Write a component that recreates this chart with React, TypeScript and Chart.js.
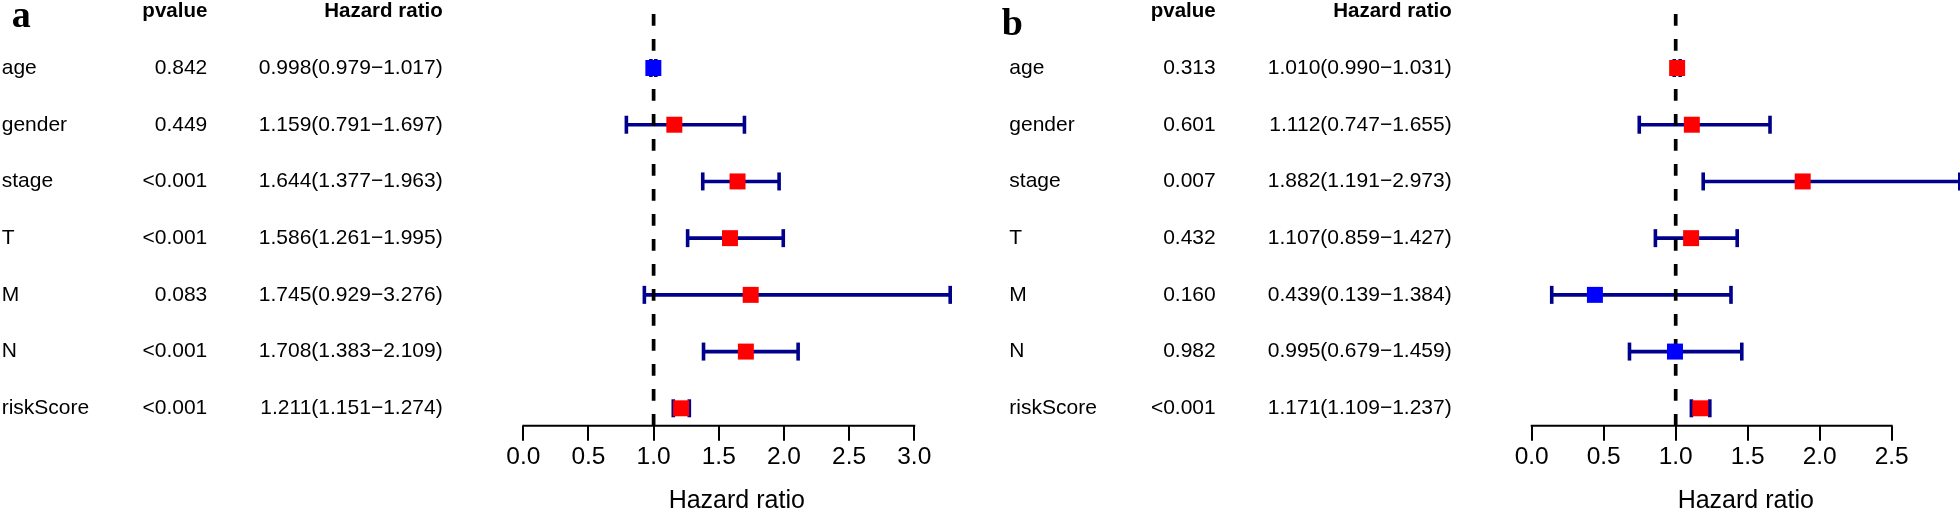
import React, { useEffect, useRef } from "react";
import { Chart, registerables } from "chart.js";

Chart.register(...registerables);

// ---------------- data ----------------
const variables = ["age", "gender", "stage", "T", "M", "N", "riskScore"];

const pvaluesA = ["0.842", "0.449", "<0.001", "<0.001", "0.083", "<0.001", "<0.001"];
const hrA = [0.998, 1.159, 1.644, 1.586, 1.745, 1.708, 1.211];
const hrLowA = [0.979, 0.791, 1.377, 1.261, 0.929, 1.383, 1.151];
const hrHighA = [1.017, 1.697, 1.963, 1.995, 3.276, 2.109, 1.274];

const pvaluesB = ["0.313", "0.601", "0.007", "0.432", "0.160", "0.982", "<0.001"];
const hrB = [1.01, 1.112, 1.882, 1.107, 0.439, 0.995, 1.171];
const hrLowB = [0.99, 0.747, 1.191, 0.859, 0.139, 0.679, 1.109];
const hrHighB = [1.031, 1.655, 2.973, 1.427, 1.384, 1.459, 1.237];

const refLine = 1;
const xTickStep = 0.5;
const headerP = "pvalue";
const headerHR = "Hazard ratio";
const axisTitle = "Hazard ratio";

// ---------------- layout / style ----------------
const W = 980;
const H = 514;
const PLOT_TOP = 5;
const PLOT_BOTTOM = 425.7;
const Y_MIN = 0.693;
const Y_MAX = 8.111;
const SANS = '"Liberation Sans", Arial, Helvetica, sans-serif';
const SERIF = '"Liberation Serif", "Times New Roman", serif';
const BAR = "#00008B";

type Lay = {
  labelX: number;
  pRight: number;
  hrRight: number;
  plotLeft: number;
  plotRight: number;
  letterX: number;
  letterY: number;
};

const layoutA: Lay = { labelX: 1.7, pRight: 207.3, hrRight: 442.7, plotLeft: 523.3, plotRight: 950.2, letterX: 11.7, letterY: 26.7 };
const layoutB: Lay = { labelX: 29.3, pRight: 235.7, hrRight: 471.7, plotLeft: 551.7, plotRight: 979.8, letterX: 21.7, letterY: 35 };

const fmt = (v: number) => v.toFixed(3);

function ForestPanel(props: {
  letter: string;
  labels: string[];
  pvals: string[];
  hr: number[];
  lo: number[];
  hi: number[];
  lay: Lay;
}) {
  const ref = useRef<HTMLCanvasElement>(null);
  useEffect(() => {
    const { letter, labels, pvals, hr, lo, hi, lay } = props;
    const n = labels.length;
    const rowY = (i: number) => n - i;
    const xMax = Math.max(...hi);

    const datasets: any[] = [];
    datasets.push({
      label: "HR",
      data: hr.map((v, i) => ({ x: v, y: rowY(i) })),
      showLine: false,
      pointStyle: "rect",
      pointRadius: 11.3,
      pointHoverRadius: 11.3,
      pointBackgroundColor: hr.map((v) => (v > refLine ? "#FF0000" : "#0000FF")),
      pointBorderWidth: 0,
      order: 0,
      clip: false,
    });
    datasets.push({
      label: "ref",
      data: [
        { x: refLine, y: Y_MIN },
        { x: refLine, y: Y_MAX },
      ],
      showLine: true,
      borderColor: "#000000",
      borderWidth: 3.7,
      borderDash: [11.7, 13.3],
      pointRadius: 0,
      order: 1,
      clip: false,
    });
    hr.forEach((_, i) => {
      datasets.push({
        label: "ci" + i,
        data: [
          { x: lo[i], y: rowY(i) },
          { x: hi[i], y: rowY(i) },
        ],
        showLine: true,
        borderColor: BAR,
        borderWidth: 3.6,
        pointStyle: "line",
        pointRotation: 90,
        pointRadius: 9,
        pointHoverRadius: 9,
        pointBorderColor: BAR,
        pointBackgroundColor: BAR,
        pointBorderWidth: 3.6,
        order: 2,
        clip: false,
      });
    });

    const tablePlugin = {
      id: "table" + letter,
      afterDraw(chart: any) {
        const ctx = chart.ctx as CanvasRenderingContext2D;
        const ys = chart.scales.y;
        const xs = chart.scales.x;
        ctx.save();
        // axis line from first to last tick
        const t = xs.ticks;
        ctx.strokeStyle = "#000";
        ctx.lineWidth = 2;
        ctx.lineCap = "square";
        ctx.beginPath();
        ctx.moveTo(xs.getPixelForValue(t[0].value), xs.top);
        ctx.lineTo(xs.getPixelForValue(t[t.length - 1].value), xs.top);
        ctx.stroke();

        ctx.fillStyle = "#000";
        ctx.textBaseline = "middle";
        const hy = ys.getPixelForValue(n + 1);
        ctx.font = `bold 20.5px ${SANS}`;
        ctx.textAlign = "right";
        ctx.fillText(headerP, lay.pRight, hy);
        ctx.fillText(headerHR, lay.hrRight, hy);

        ctx.font = `21px ${SANS}`;
        labels.forEach((lab, i) => {
          const y = ys.getPixelForValue(rowY(i));
          ctx.textAlign = "left";
          ctx.fillText(lab, lay.labelX, y);
          ctx.textAlign = "right";
          ctx.fillText(pvals[i], lay.pRight, y);
          ctx.fillText(`${fmt(hr[i])}(${fmt(lo[i])}\u2212${fmt(hi[i])})`, lay.hrRight, y);
        });

        ctx.font = `bold 38px ${SERIF}`;
        ctx.textAlign = "left";
        ctx.textBaseline = "alphabetic";
        ctx.fillText(letter, lay.letterX, lay.letterY);
        ctx.restore();
      },
    };

    const chart = new Chart(ref.current as HTMLCanvasElement, {
      type: "scatter",
      data: { datasets },
      options: {
        responsive: false,
        animation: false,
        events: [],
        layout: {
          autoPadding: false,
          padding: { left: lay.plotLeft, right: W - lay.plotRight, top: PLOT_TOP, bottom: 0 },
        },
        plugins: { legend: { display: false }, tooltip: { enabled: false }, title: { display: false } },
        scales: {
          x: {
            type: "linear",
            position: "bottom",
            min: 0,
            max: xMax,
            afterFit: (s: any) => {
              s.height = H - PLOT_BOTTOM;
            },
            border: { display: false },
            grid: { drawOnChartArea: false, drawTicks: true, tickLength: 15, color: "#000", lineWidth: 2 },
            ticks: {
              stepSize: xTickStep,
              includeBounds: false,
              autoSkip: false,
              maxRotation: 0,
              color: "#000",
              padding: 4,
              font: { family: SANS, size: 24.5, lineHeight: 1 },
              callback: (v: any) => Number(v).toFixed(1),
            },
            title: {
              display: true,
              text: axisTitle,
              color: "#000",
              font: { family: SANS, size: 25, lineHeight: 1 },
              padding: { top: 0, bottom: 0 },
            },
          },
          y: { type: "linear", min: Y_MIN, max: Y_MAX, display: false },
        },
      } as any,
      plugins: [tablePlugin],
    });
    return () => chart.destroy();
  }, []);
  return <canvas ref={ref} width={W} height={H} style={{ display: "block", width: W, height: H }} />;
}

export default function App() {
  return (
    <div style={{ position: "absolute", left: 0, top: 0, width: 2 * W, height: H, display: "flex", background: "#fff" }}>
      <ForestPanel letter="a" labels={variables} pvals={pvaluesA} hr={hrA} lo={hrLowA} hi={hrHighA} lay={layoutA} />
      <ForestPanel letter="b" labels={variables} pvals={pvaluesB} hr={hrB} lo={hrLowB} hi={hrHighB} lay={layoutB} />
    </div>
  );
}
